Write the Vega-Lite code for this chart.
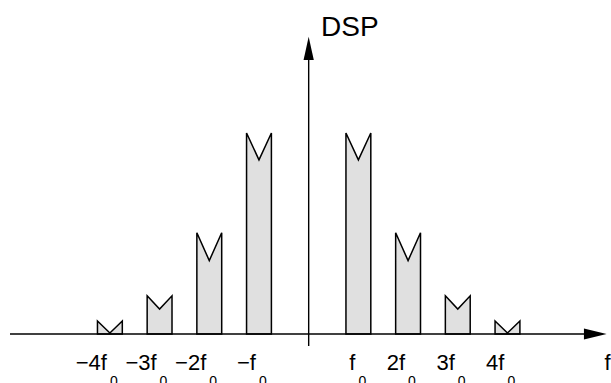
{
  "$schema": "https://vega.github.io/schema/vega-lite/v6.json",
  "width": 611,
  "height": 383,
  "padding": 0,
  "autosize": {"type": "none"},
  "config": {"view": {"stroke": null}, "font": "Liberation Sans", "text": {"font": "Liberation Sans", "color": "black"}},
  "data": {"values": [{}]},
  "datasets": {
    "bars": [
      {"bar": "-4", "x": -4.25, "y": 0.065}, {"bar": "-4", "x": -4.0, "y": 0.005}, {"bar": "-4", "x": -3.75, "y": 0.065},
      {"bar": "-3", "x": -3.25, "y": 0.19}, {"bar": "-3", "x": -3.0, "y": 0.124}, {"bar": "-3", "x": -2.75, "y": 0.19},
      {"bar": "-2", "x": -2.25, "y": 0.504}, {"bar": "-2", "x": -2.0, "y": 0.365}, {"bar": "-2", "x": -1.75, "y": 0.504},
      {"bar": "-1", "x": -1.25, "y": 1.0}, {"bar": "-1", "x": -1.0, "y": 0.866}, {"bar": "-1", "x": -0.75, "y": 1.0},
      {"bar": "1", "x": 0.75, "y": 1.0}, {"bar": "1", "x": 1.0, "y": 0.866}, {"bar": "1", "x": 1.25, "y": 1.0},
      {"bar": "2", "x": 1.75, "y": 0.504}, {"bar": "2", "x": 2.0, "y": 0.365}, {"bar": "2", "x": 2.25, "y": 0.504},
      {"bar": "3", "x": 2.75, "y": 0.19}, {"bar": "3", "x": 3.0, "y": 0.124}, {"bar": "3", "x": 3.25, "y": 0.19},
      {"bar": "4", "x": 3.75, "y": 0.065}, {"bar": "4", "x": 4.0, "y": 0.005}, {"bar": "4", "x": 4.25, "y": 0.065}
    ],
    "labels": [
      {"x": -4, "main": "−4f", "sub": "0"},
      {"x": -3, "main": "−3f", "sub": "0"},
      {"x": -2, "main": "−2f", "sub": "0"},
      {"x": -1, "main": "−f", "sub": "0"},
      {"x": 1, "main": "f", "sub": "0"},
      {"x": 2, "main": "2f", "sub": "0"},
      {"x": 3, "main": "3f", "sub": "0"},
      {"x": 4, "main": "4f", "sub": "0"}
    ]
  },
  "layer": [
    {
      "data": {"name": "bars"},
      "mark": {"type": "area", "fill": "#e0e0e0", "stroke": "black", "strokeWidth": 1.5, "fillOpacity": 1},
      "encoding": {
        "x": {"field": "x", "type": "quantitative", "scale": {"domain": [-6.211, 6.083], "nice": false, "zero": false}, "axis": null},
        "y": {"field": "y", "type": "quantitative", "scale": {"domain": [-0.2438, 1.6617], "nice": false, "zero": false}, "axis": null},
        "y2": {"datum": 0},
        "detail": {"field": "bar"}
      }
    },
    {
      "mark": {"type": "rule", "color": "black", "strokeWidth": 1.4},
      "encoding": {"x": {"datum": -6.01}, "x2": {"datum": 5.54}, "y": {"datum": 0}}
    },
    {
      "mark": {"type": "rule", "color": "black", "strokeWidth": 1.4},
      "encoding": {"x": {"datum": 0}, "y": {"datum": -0.06}, "y2": {"datum": 1.37}}
    },
    {
      "mark": {"type": "point", "shape": "M0,-1L0.44,1L-0.44,1Z", "size": 540, "filled": true, "color": "black", "opacity": 1},
      "encoding": {"x": {"datum": 0}, "y": {"datum": 1.421}}
    },
    {
      "mark": {"type": "point", "shape": "M1,0L-1,0.48L-1,-0.48Z", "size": 515, "filled": true, "color": "black", "opacity": 1},
      "encoding": {"x": {"datum": 5.767}, "y": {"datum": 0}}
    },
    {
      "data": {"name": "labels"},
      "mark": {"type": "text", "align": "right", "baseline": "alphabetic", "fontSize": 22, "dx": -3},
      "encoding": {"x": {"field": "x", "type": "quantitative"}, "y": {"datum": -0.179}, "text": {"field": "main"}}
    },
    {
      "data": {"name": "labels"},
      "mark": {"type": "text", "align": "left", "baseline": "alphabetic", "fontSize": 14, "dx": 0, "dy": 16},
      "encoding": {"x": {"field": "x", "type": "quantitative"}, "y": {"datum": -0.179}, "text": {"field": "sub"}}
    },
    {
      "mark": {"type": "text", "align": "left", "baseline": "alphabetic", "fontSize": 22, "text": "f"},
      "encoding": {"x": {"datum": 5.95}, "y": {"datum": -0.179}}
    },
    {
      "mark": {"type": "text", "align": "left", "baseline": "alphabetic", "fontSize": 28, "text": "DSP"},
      "encoding": {"x": {"datum": 0.25}, "y": {"datum": 1.485}}
    }
  ]
}
